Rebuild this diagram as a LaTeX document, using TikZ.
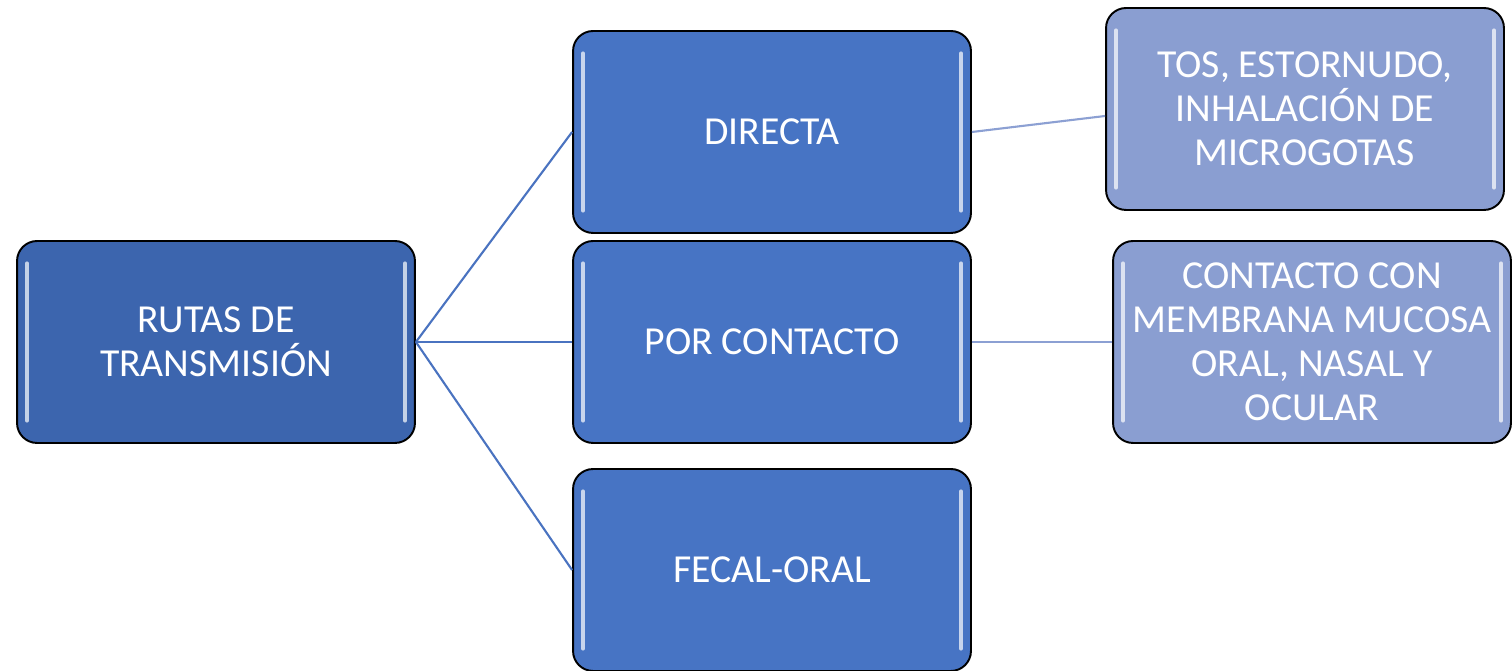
\documentclass[tikz,border=0pt]{standalone}
\usepackage{fontspec}
\setmainfont{Carlito}
\definecolor{rootblue}{HTML}{3C65AE}
\definecolor{midblue}{HTML}{4774C4}
\definecolor{leafblue}{HTML}{8A9ED1}
\definecolor{linkblue}{HTML}{4A73C0}
\definecolor{leaflink}{HTML}{8CA0D3}
\begin{document}
\begin{tikzpicture}[
  x = 0.02cm,
  y = -0.02cm,
  box/.style = {
    shape = rectangle,
    rounded corners = 0.4cm,
    draw = black,
    line width = 1.1pt,
    minimum width = 7.96cm,
    minimum height = 4.04cm,
    text = white,
    align = center,
    font = \fontsize{22.6}{25}\selectfont,
    path picture = {
      \draw[white, opacity = 0.7, line width = 2.4pt, line cap = round]
        ([xshift = 0.2cm, yshift = -0.45cm]path picture bounding box.north west)
        -- ([xshift = 0.2cm, yshift = 0.45cm]path picture bounding box.south west);
      \draw[white, opacity = 0.7, line width = 2.4pt, line cap = round]
        ([xshift = -0.2cm, yshift = -0.45cm]path picture bounding box.north east)
        -- ([xshift = -0.2cm, yshift = 0.45cm]path picture bounding box.south east);
    }
  },
  rootbox/.style = {
    box,
    fill = rootblue
  },
  midbox/.style = {
    box,
    fill = midblue
  },
  leafbox/.style = {
    box,
    fill = leafblue
  },
  link/.style = {
    draw = linkblue,
    line width = 1.2pt
  },
  leaf link/.style = {
    draw = leaflink,
    line width = 1.2pt
  }
]
  \useasboundingbox (0, 0) rectangle (1512, 671);

  \node[rootbox] (rutas) at (216, 342) {RUTAS DE\\TRANSMISIÓN};

  \node[midbox] (directa) at (772, 132) {DIRECTA};
  \node[midbox] (contacto) at (772, 342) {POR CONTACTO};
  \node[midbox] (fecal) at (772, 570) {FECAL-ORAL};

  \node[leafbox] (tos) at (1305, 109) {TOS, ESTORNUDO,\\INHALACIÓN DE\\MICROGOTAS};
  \node[leafbox] (mucosa) at (1312, 342) {CONTACTO CON\\MEMBRANA MUCOSA\\ORAL, NASAL Y\\OCULAR};

  \draw[link] (rutas.east) -- (directa.west);
  \draw[link] (rutas.east) -- (contacto.west);
  \draw[link] (rutas.east) -- (fecal.west);

  \draw[leaf link] (directa.east) -- ([yshift = -0.14cm]tos.west);
  \draw[leaf link] (contacto.east) -- (mucosa.west);
\end{tikzpicture}
\end{document}
